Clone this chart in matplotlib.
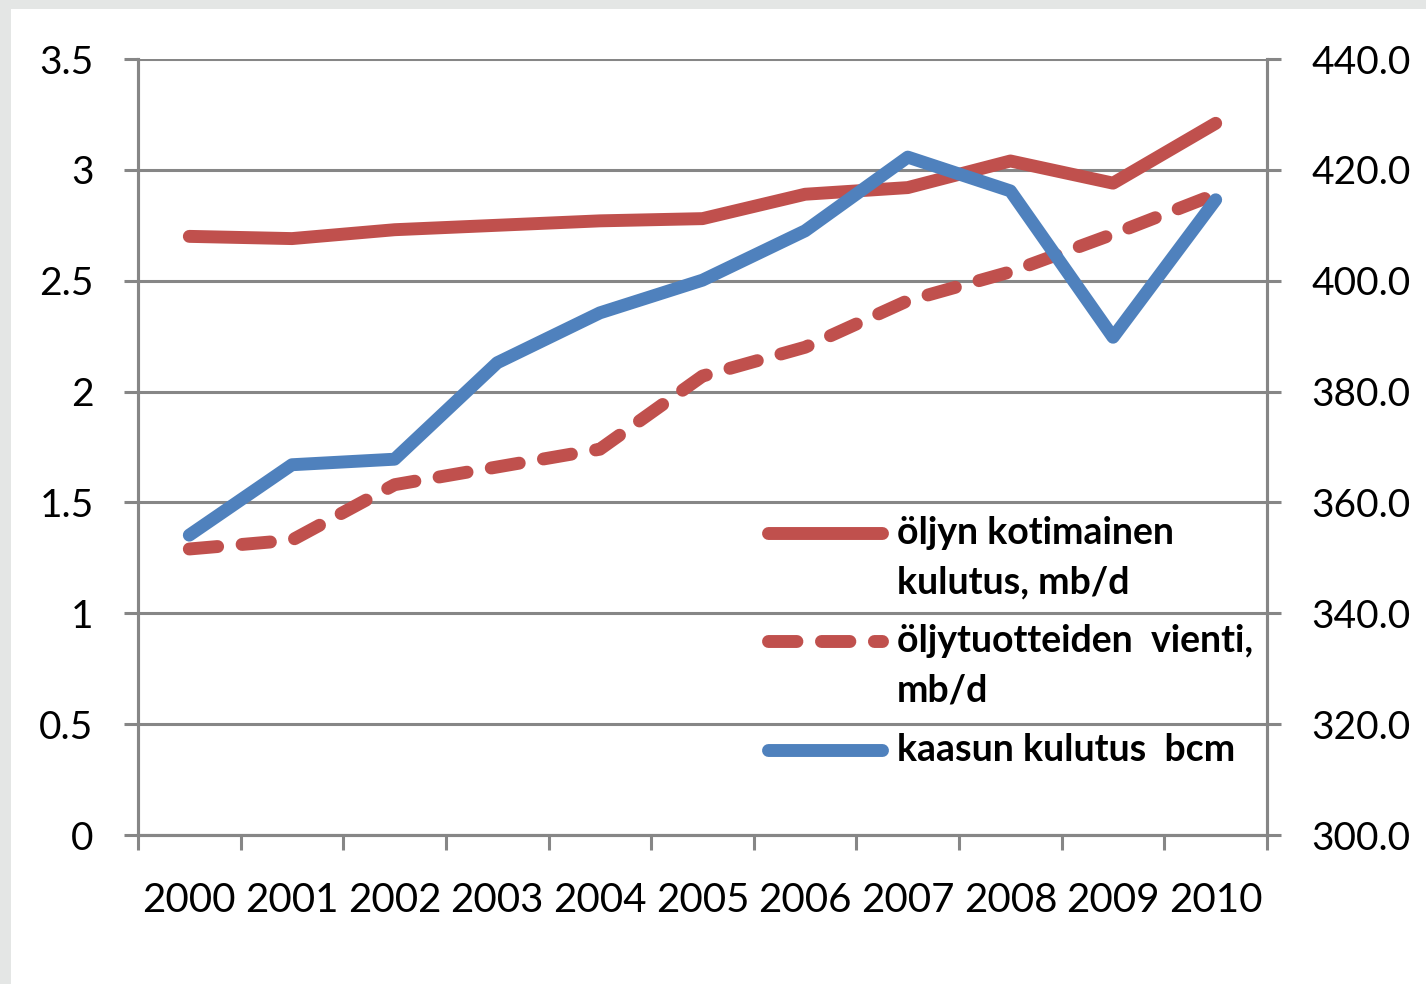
import matplotlib.pyplot as plt
from matplotlib.lines import Line2D
from matplotlib.patches import Rectangle
from matplotlib.ticker import FuncFormatter

years = ["2000", "2001", "2002", "2003", "2004", "2005",
         "2006", "2007", "2008", "2009", "2010"]
oil_consumption = [2.70, 2.69, 2.73, 2.75, 2.77, 2.78, 2.89, 2.92, 3.04, 2.94, 3.21]
oil_exports = [1.29, 1.33, 1.58, 1.66, 1.74, 2.07, 2.20, 2.41, 2.54, 2.71, 2.89]
gas_consumption = [354.1, 366.8, 367.8, 385.2, 394.2, 400.1, 409.0, 422.3, 416.2, 389.8, 414.6]

labels = ["öljyn kotimainen\nkulutus, mb/d",
          "öljytuotteiden  vienti,\nmb/d",
          "kaasun kulutus  bcm"]

red = "#C0504D"
blue = "#4F81BD"
grid = "#868686"
font = "Lato"
lw = 9.3

fig = plt.figure(figsize=(14.26, 9.84), dpi=100)
fig.patch.set_facecolor("white")
# grey frame strips at the top and left edge
fig.patches.append(Rectangle((0, 0), 11 / 1426, 1, transform=fig.transFigure,
                             facecolor="#E4E6E5", edgecolor="none", zorder=-5))
fig.patches.append(Rectangle((0, 1 - 9 / 984), 1, 9 / 984, transform=fig.transFigure,
                             facecolor="#E4E6E5", edgecolor="none", zorder=-5))

ax = fig.add_axes([138 / 1426, 149 / 984, 1129 / 1426, 776 / 984])
ax.set_facecolor("none")
ax2 = ax.twinx()

x = list(range(len(years)))
ax.plot(x, oil_consumption, color=red, lw=lw, solid_capstyle="round",
        solid_joinstyle="round", zorder=3)
ax.plot(x, oil_exports, color=red, lw=lw, dashes=(2.2, 1.9),
        dash_capstyle="round", dash_joinstyle="round", zorder=3)
ax2.plot(x, gas_consumption, color=blue, lw=lw, solid_capstyle="round",
         solid_joinstyle="round", zorder=3)

ax.set_xlim(-0.5, len(years) - 0.5)
ax.set_ylim(0, 3.5)
ax2.set_ylim(300, 440)
ax.set_yticks([i * 0.5 for i in range(8)])
ax2.set_yticks([300 + i * 20 for i in range(8)])
ax.yaxis.set_major_formatter(FuncFormatter(lambda v, p: "%g" % v))
ax2.yaxis.set_major_formatter(FuncFormatter(lambda v, p: "%.1f" % v))

ax.set_xticks([i - 0.5 for i in range(len(years) + 1)])
ax.set_xticklabels([])
ax.set_xticks(x, minor=True)
ax.set_xticklabels(years, minor=True)

ax.grid(axis="y", color=grid, lw=2.2)
ax.set_axisbelow(True)

for a in (ax, ax2):
    for s in a.spines.values():
        s.set_color(grid)
        s.set_linewidth(2.2)
    a.spines["top"].set_visible(False)

ax.tick_params(axis="x", which="major", length=11, width=2.2, color=grid)
ax.tick_params(axis="x", which="minor", length=0, pad=34, labelsize=29)
ax.tick_params(axis="y", length=10, width=2.2, color=grid, pad=22, labelsize=28)
ax2.tick_params(axis="y", length=10, width=2.2, color=grid, pad=22, labelsize=28)
for t in ax.get_xticklabels(minor=True) + ax.get_yticklabels() + ax2.get_yticklabels():
    t.set_fontfamily(font)

# legend drawn by hand so the sample sits beside the first text line
leg_y = [533, 641, 750]
styles = [dict(color=red), dict(color=red, dashes=(2.2, 1.9)), dict(color=blue)]
for y, lab, st in zip(leg_y, labels, styles):
    fy = 1 - y / 984
    fig.add_artist(Line2D([768 / 1426, 882 / 1426], [fy, fy], lw=lw,
                          solid_capstyle="round", dash_capstyle="round", **st))
    fig.text(897 / 1426, fy + 17 / 984, lab, fontsize=27, fontweight="bold",
             family=font, va="top", ha="left", linespacing=1.56)

fig.savefig("out.png", dpi=100, facecolor=fig.get_facecolor())
